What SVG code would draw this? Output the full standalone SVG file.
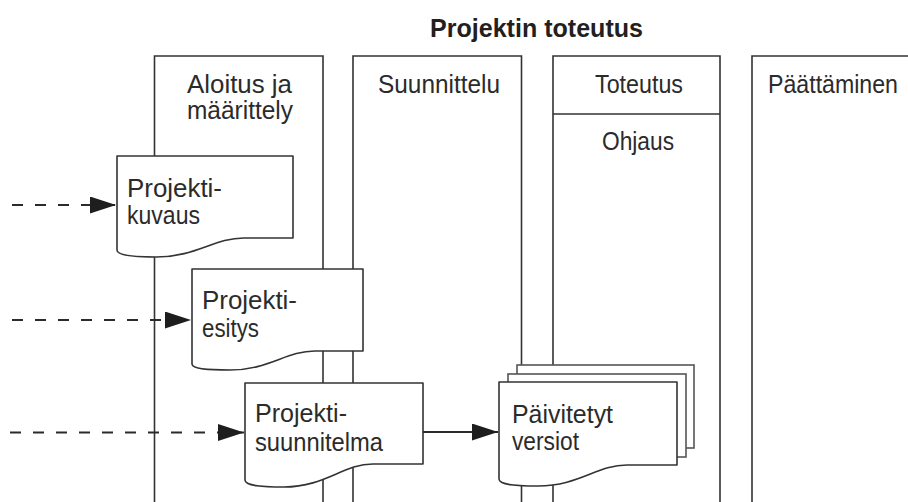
<svg xmlns="http://www.w3.org/2000/svg" width="908" height="502" viewBox="0 0 908 502">
  <style>
    .bg { fill: #ffffff; }
    .lane { fill: none; stroke: #333333; stroke-width: 1.6; }
    .doc { fill: #ffffff; stroke: #333333; stroke-width: 1.6; stroke-linejoin: round; }
    .page { fill: #ffffff; stroke: #555555; stroke-width: 1.6; }
    .lbl { font-family: "Liberation Sans", Arial, sans-serif; font-size: 25px; fill: #2b2b2b; }
    .title { font-family: "Liberation Sans", Arial, sans-serif; font-size: 25px; font-weight: bold; fill: #231f20; }
    .flow { fill: none; stroke: #2b2b2b; stroke-width: 1.8; }
    .dash { stroke-dasharray: 11 12; }
  </style>
  <defs>
    <marker id="head" markerUnits="userSpaceOnUse" markerWidth="27" markerHeight="18" refX="26" refY="8.5" orient="auto">
      <path d="M0,0 L26,8.5 L0,17 Z" fill="#1e1e1e"/>
    </marker>
  </defs>

  <rect class="bg" x="0" y="0" width="908" height="502"/>

  <text class="title" x="430" y="37" textLength="213" lengthAdjust="spacingAndGlyphs">Projektin toteutus</text>

  <!-- phase lanes -->
  <g id="lane-aloitus">
    <path class="lane" d="M154.5,503 V56 H323 V503"/>
    <text class="lbl" x="187" y="93" textLength="105" lengthAdjust="spacingAndGlyphs">Aloitus ja</text>
    <text class="lbl" x="187" y="119" textLength="106" lengthAdjust="spacingAndGlyphs">määrittely</text>
  </g>
  <g id="lane-suunnittelu">
    <path class="lane" d="M353,503 V56 H521.5 V503"/>
    <text class="lbl" x="378" y="93" textLength="122" lengthAdjust="spacingAndGlyphs">Suunnittelu</text>
  </g>
  <g id="lane-toteutus">
    <path class="lane" d="M553,503 V56 H720 V503 M553,114 H720"/>
    <text class="lbl" x="595" y="93" textLength="88" lengthAdjust="spacingAndGlyphs">Toteutus</text>
    <text class="lbl" x="602" y="150" textLength="72" lengthAdjust="spacingAndGlyphs">Ohjaus</text>
  </g>
  <g id="lane-paattaminen">
    <path class="lane" d="M752,503 V56 H910"/>
    <text class="lbl" x="768" y="93" textLength="130" lengthAdjust="spacingAndGlyphs">Päättäminen</text>
  </g>

  <!-- documents -->
  <g id="doc-projektikuvaus">
    <path class="doc" d="M117,156 H293 V238 H244 C214,238 196,257 156,257 C138,257 117,256 117,250 Z"/>
    <text class="lbl" x="127" y="197" textLength="95" lengthAdjust="spacingAndGlyphs">Projekti-</text>
    <text class="lbl" x="127" y="224" textLength="73" lengthAdjust="spacingAndGlyphs">kuvaus</text>
  </g>
  <g id="doc-projektiesitys">
    <path class="doc" d="M192,269 H363 V351 H315 C286,351 269,370 230,370 C209,370 192,369 192,364 Z"/>
    <text class="lbl" x="202" y="309" textLength="95" lengthAdjust="spacingAndGlyphs">Projekti-</text>
    <text class="lbl" x="202" y="337" textLength="57" lengthAdjust="spacingAndGlyphs">esitys</text>
  </g>
  <g id="doc-projektisuunnitelma">
    <path class="doc" d="M245,383 H423 V464 H373 C343,464 325,487 284,487 C263,487 245,486 245,480 Z"/>
    <text class="lbl" x="255" y="421.5" textLength="92" lengthAdjust="spacingAndGlyphs">Projekti-</text>
    <text class="lbl" x="255" y="450.5" textLength="128" lengthAdjust="spacingAndGlyphs">suunnitelma</text>
  </g>
  <g id="doc-paivitetyt-versiot">
    <rect class="page" x="517" y="365" width="177" height="83"/>
    <rect class="page" x="508" y="374" width="178" height="83"/>
    <path class="doc" d="M499,382 H677 V465 H627 C597,465 579,486 538,486 C517,486 499,485 499,479 Z"/>
    <text class="lbl" x="512" y="422.5" textLength="101" lengthAdjust="spacingAndGlyphs">Päivitetyt</text>
    <text class="lbl" x="512" y="450" textLength="67" lengthAdjust="spacingAndGlyphs">versiot</text>
  </g>

  <!-- connectors -->
  <g id="connectors">
    <path class="flow dash" d="M12,205 H116" marker-end="url(#head)"/>
    <path class="flow dash" d="M12,320 H191" marker-end="url(#head)"/>
    <path class="flow dash" d="M10,432.5 H244" marker-end="url(#head)"/>
    <path class="flow" d="M423,432 H498" marker-end="url(#head)"/>
  </g>
</svg>
